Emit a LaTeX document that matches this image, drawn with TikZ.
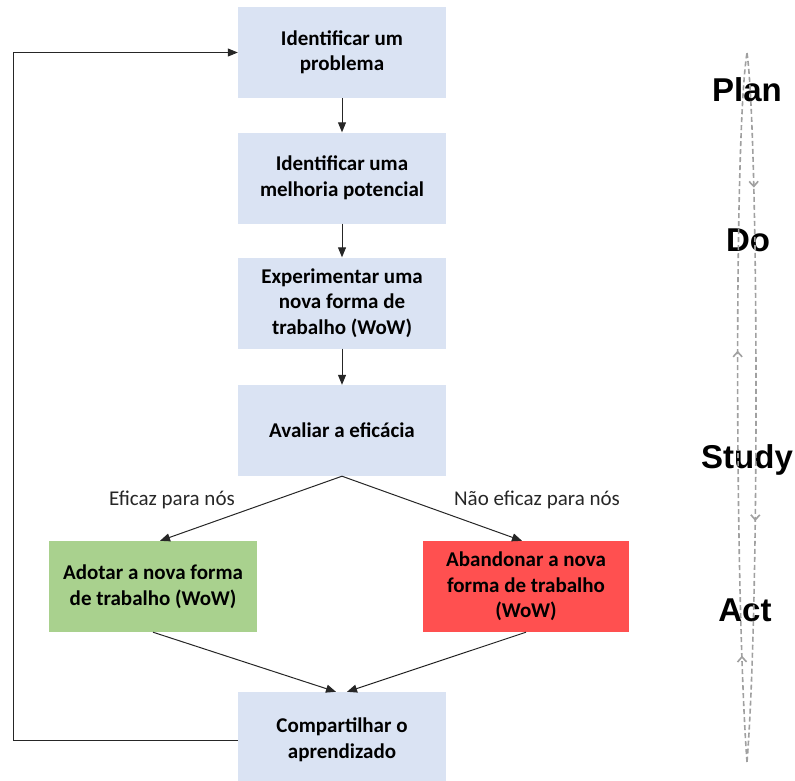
\documentclass[tikz,border=0pt]{standalone}
\usepackage{fontspec}
\setmainfont{Carlito}
\newfontfamily\pdcafont{Liberation Sans}
\usetikzlibrary{calc}
\usetikzlibrary{arrows.meta}
\usetikzlibrary{decorations.markings}

\definecolor{boxblue}{HTML}{DAE3F3}
\definecolor{boxgreen}{HTML}{A9D18E}
\definecolor{boxred}{HTML}{FF5050}
\definecolor{loopgray}{HTML}{A0A0A0}

\begin{document}
\begin{tikzpicture}[x=1pt,y=-1pt,
        stepbox/.style={fill=boxblue,minimum width=208pt,minimum height=91pt,align=center,
            font=\fontsize{21}{25.5}\selectfont\bfseries},
        flow/.style={-{Triangle[length=10pt,width=8pt]},draw=black!85,line width=1pt},
        branch/.style={font=\fontsize{21}{25.5}\selectfont,text=black!85},
        phase/.style={font=\pdcafont\fontsize{33}{36}\selectfont\bfseries},
        cycle/.style={draw=loopgray,line width=1.6pt,dash pattern=on 5pt off 3pt,
            postaction=decorate}]
                \useasboundingbox (0,0) rectangle (795,780);

                \node[stepbox] (problem) at (342,52.5) {Identificar um\\problema};
                \node[stepbox] (improve) at (342,178) {Identificar uma\\melhoria potencial};
                \node[stepbox] (experiment) at (342,303) {Experimentar uma\\nova forma de\\trabalho (WoW)};
                \node[stepbox] (evaluate) at (342,430.5) {Avaliar a efic\'acia};
                \node[stepbox,fill=boxgreen] (adopt) at (153,586.5) {Adotar a nova forma\\de trabalho (WoW)};
                \node[stepbox,fill=boxred,minimum width=206pt] (abandon) at (526,586.5) {Abandonar a nova\\forma de trabalho\\(WoW)};
                \node[stepbox,minimum height=96pt] (share) at (342,740) {Compartilhar o\\aprendizado};

                \node[branch] (yes) at (172,500) {Eficaz para n\'os};
                \node[branch] (no) at (537,500) {N\~ao eficaz para n\'os};

                \draw[flow] (problem) -- (improve);
                \draw[flow] (improve) -- (experiment);
                \draw[flow] (experiment) -- (evaluate);
                \draw[flow] (evaluate.south) -- ([xshift=7pt]adopt.north);
                \draw[flow] (evaluate.south) -- ([xshift=-4pt]abandon.north);
                \draw[flow] (adopt.south) -- ([xshift=-6pt]share.north);
                \draw[flow] (abandon.south) -- ([xshift=5pt]share.north);

                \coordinate (back) at (13,0);
                \draw[flow] (share.west) -- (share.west -| back) -- (problem.west -| back) -- (problem.west);

                \node[phase] (plan) at (747,90) {Plan};
                \node[phase] (do) at (748,240) {Do};
                \node[phase] (study) at (747,460) {Study};
                \node[phase] (act) at (745,610) {Act};

                \coordinate (top) at (747,53);
                \coordinate (bottom) at (747,762);
                \draw[cycle,decoration={markings,
                        mark=at position 0.19 with {\arrow{Straight Barb[length=5pt,width=9pt]}},
                        mark=at position 0.66 with {\arrow{Straight Barb[length=5pt,width=9pt]}}}]
                    (top) .. controls (758,130) and (760,600) .. (bottom);
                \draw[cycle,decoration={markings,
                        mark=at position 0.15 with {\arrow{Straight Barb[length=5pt,width=9pt]}},
                        mark=at position 0.58 with {\arrow{Straight Barb[length=5pt,width=9pt]}}}]
                    (bottom) .. controls (735,600) and (734,130) .. (top);
\end{tikzpicture}
\end{document}
